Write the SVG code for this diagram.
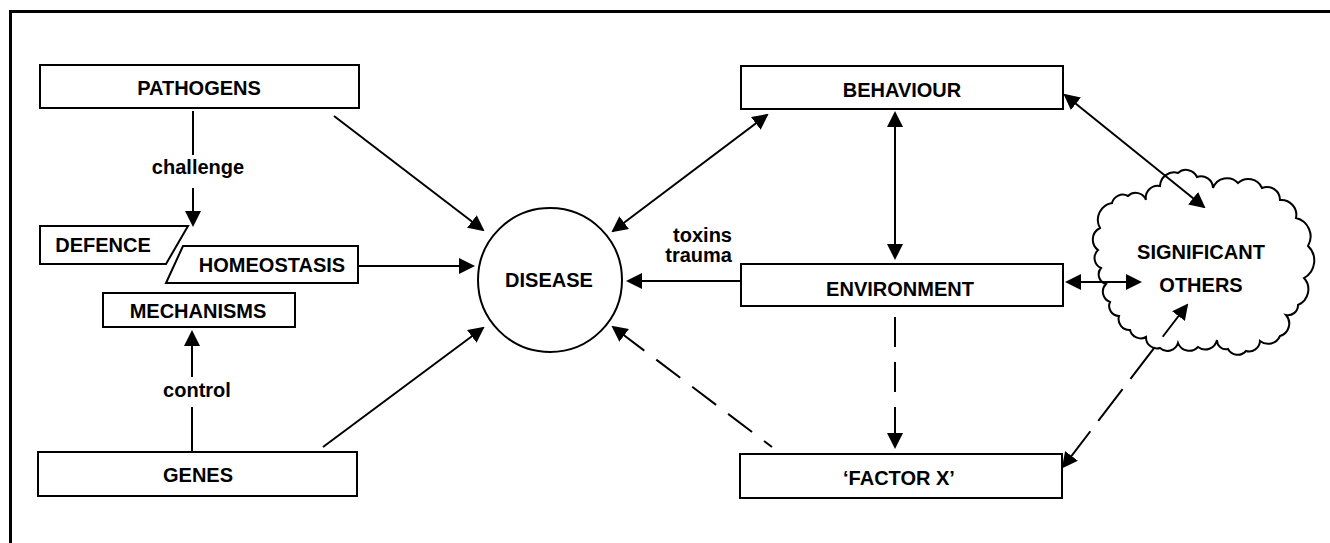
<svg xmlns="http://www.w3.org/2000/svg" width="1330" height="543" viewBox="0 0 1330 543">
<style>
.box{fill:#fff;stroke:#000;stroke-width:2}
.t{font-family:"Liberation Sans",Arial,sans-serif;font-weight:bold;font-size:20px;fill:#000;text-anchor:middle}
.lbl{font-family:"Liberation Sans",Arial,sans-serif;font-weight:bold;font-size:20px;fill:#000}
.c{fill:none;stroke:#000;stroke-width:2}
.d{stroke-dasharray:30 15}
</style>
<defs>
<marker id="ah" markerUnits="userSpaceOnUse" markerWidth="16" markerHeight="16" refX="14" refY="8" orient="auto-start-reverse" viewBox="0 0 16 16">
<path d="M0,0 L16,8 L0,16 z" fill="#000"/>
</marker>
</defs>
<rect width="1330" height="543" fill="#fff"/>
<g id="frame"><path d="M10.5,543 V11.5 H1330" fill="none" stroke="#000" stroke-width="3"/></g>

<g id="pathogens"><rect class="box" x="40" y="65" width="319" height="43"/><text class="t" x="199" y="95">PATHOGENS</text></g>
<g id="defence"><path class="box" d="M40,226 H188 L166,264 H40 z"/><text class="t" x="103" y="252">DEFENCE</text></g>
<g id="homeostasis"><path class="box" d="M183,246 H358 V283 H166 z"/><text class="t" x="272" y="272">HOMEOSTASIS</text></g>
<g id="mechanisms"><rect class="box" x="103" y="293" width="192" height="34"/><text class="t" x="198" y="318">MECHANISMS</text></g>
<g id="genes"><rect class="box" x="38" y="452" width="319" height="44"/><text class="t" x="198" y="482">GENES</text></g>
<g id="disease"><circle class="box" cx="550" cy="280" r="72"/><text class="t" x="549" y="287">DISEASE</text></g>
<g id="behaviour"><rect class="box" x="741" y="66" width="322" height="43"/><text class="t" x="902" y="97">BEHAVIOUR</text></g>
<g id="environment"><rect class="box" x="741" y="264" width="322" height="42"/><text class="t" x="900" y="296">ENVIRONMENT</text></g>
<g id="factorx"><rect class="box" x="740" y="454" width="322" height="44"/><text class="t" x="899" y="485">‘FACTOR X’</text></g>
<g id="significant-others">
<path class="box" d="M1100,228 A17,17 0 0 1 1112,203 A11,11 0 0 1 1128,196 A11,11 0 0 1 1146,200 A12,12 0 0 1 1160,186 A14,14 0 0 1 1178,173 A12,12 0 0 1 1197,177 A12,12 0 0 1 1213,188 A15,15 0 0 1 1238,183 A15,15 0 0 1 1262,188 A13,13 0 0 1 1280,200 A15,15 0 0 1 1296,218 A19,19 0 0 1 1308,246 A20,20 0 0 1 1304,278 A17,17 0 0 1 1298,305 A10,10 0 0 1 1286,315 A13,13 0 0 1 1280,336 A13,13 0 0 1 1260,341 A11,11 0 0 1 1246,351 A11,11 0 0 1 1228,349 A9,9 0 0 1 1217,340 A12,12 0 0 1 1198,347 A12,12 0 0 1 1178,343 A11,11 0 0 1 1160,348 A11,11 0 0 1 1146,337 A11,11 0 0 1 1130,330 A11,11 0 0 1 1119,316 A10,10 0 0 1 1110,302 A11,11 0 0 1 1106,284 A10,10 0 0 1 1101,268 A11,11 0 0 1 1098,250 A13,13 0 0 1 1100,228 z"/>
<text class="t" x="1201" y="259">SIGNIFICANT</text>
<text class="t" x="1201" y="292">OTHERS</text>
</g>

<g id="connectors">
<line class="c" x1="193" y1="111" x2="193" y2="155"/>
<line class="c" x1="193" y1="188" x2="193" y2="225" marker-end="url(#ah)"/>
<text class="t" x="198" y="174">challenge</text>
<line class="c" x1="334" y1="116" x2="483" y2="230" marker-end="url(#ah)"/>
<line class="c" x1="359" y1="266" x2="473" y2="266" marker-end="url(#ah)"/>
<line class="c" x1="192" y1="451" x2="192" y2="407"/>
<line class="c" x1="192" y1="377" x2="192" y2="332" marker-end="url(#ah)"/>
<text class="t" x="197" y="397">control</text>
<line class="c" x1="323" y1="447" x2="483" y2="328" marker-end="url(#ah)"/>
<line class="c" x1="767" y1="115" x2="613" y2="231" marker-start="url(#ah)" marker-end="url(#ah)"/>
<line class="c" x1="895" y1="113" x2="895" y2="258" marker-start="url(#ah)" marker-end="url(#ah)"/>
<line class="c" x1="740" y1="281" x2="628" y2="281" marker-end="url(#ah)"/>
<text class="lbl" x="732" y="242" text-anchor="end">toxins</text>
<text class="lbl" x="732" y="262" text-anchor="end">trauma</text>
<line class="c d" x1="895" y1="317" x2="895" y2="447" marker-end="url(#ah)"/>
<line class="c d" x1="772" y1="447" x2="613" y2="327" stroke-dashoffset="20" marker-end="url(#ah)"/>
<line class="c" x1="1067" y1="282" x2="1140" y2="282" marker-start="url(#ah)" marker-end="url(#ah)"/>
<line class="c" x1="1065" y1="95" x2="1204" y2="207" marker-start="url(#ah)" marker-end="url(#ah)"/>
<line class="c" x1="1187" y1="305" x2="1063" y2="467" stroke-dasharray="40 13" marker-start="url(#ah)" marker-end="url(#ah)"/>
</g>
</svg>
